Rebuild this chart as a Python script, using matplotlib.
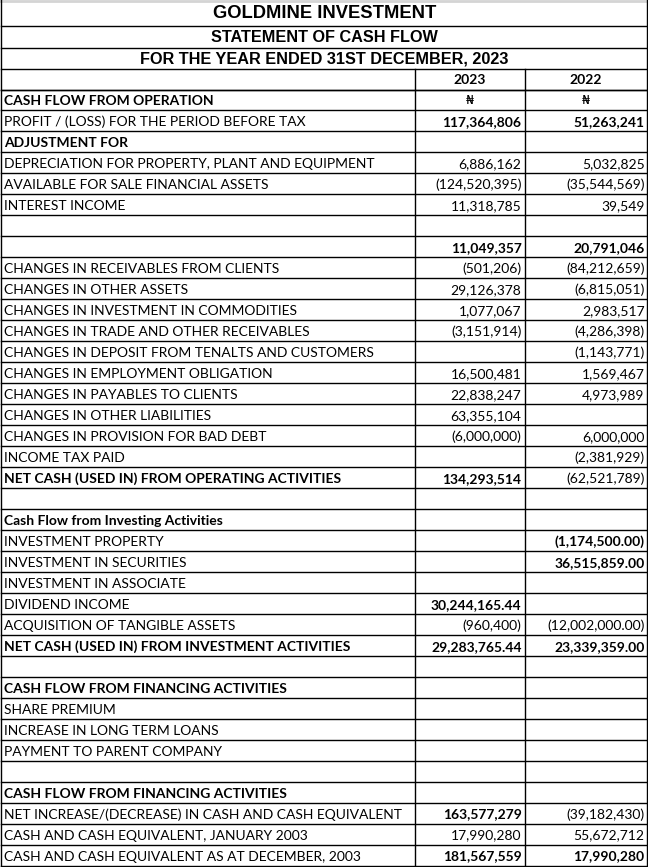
import matplotlib.pyplot as plt
from matplotlib.lines import Line2D

plt.rcParams['font.family'] = ['Lato', 'DejaVu Sans']

# titles
titles = ['GOLDMINE INVESTMENT', 'STATEMENT OF CASH FLOW',
          'FOR THE YEAR ENDED 31ST DECEMBER, 2023']
years = ['2023', '2022']

# rows: label, 2023, 2022
labels = [
    'CASH FLOW FROM OPERATION',
    'PROFIT / (LOSS) FOR THE PERIOD BEFORE TAX',
    'ADJUSTMENT FOR',
    'DEPRECIATION FOR PROPERTY, PLANT AND EQUIPMENT',
    'AVAILABLE FOR SALE FINANCIAL ASSETS',
    'INTEREST INCOME',
    '',
    '',
    'CHANGES IN RECEIVABLES FROM CLIENTS',
    'CHANGES IN OTHER ASSETS',
    'CHANGES IN INVESTMENT IN COMMODITIES',
    'CHANGES IN TRADE AND OTHER RECEIVABLES',
    'CHANGES IN DEPOSIT FROM TENALTS AND CUSTOMERS',
    'CHANGES IN EMPLOYMENT OBLIGATION',
    'CHANGES IN PAYABLES TO CLIENTS',
    'CHANGES IN OTHER LIABILITIES',
    'CHANGES IN PROVISION FOR BAD DEBT',
    'INCOME TAX PAID',
    'NET CASH (USED IN) FROM OPERATING ACTIVITIES',
    '',
    'Cash Flow from Investing Activities',
    'INVESTMENT PROPERTY',
    'INVESTMENT IN SECURITIES',
    'INVESTMENT IN ASSOCIATE',
    'DIVIDEND INCOME',
    'ACQUISITION OF TANGIBLE ASSETS',
    'NET CASH (USED IN) FROM INVESTMENT ACTIVITIES',
    '',
    'CASH FLOW FROM FINANCING ACTIVITIES',
    'SHARE PREMIUM',
    'INCREASE IN LONG TERM LOANS',
    'PAYMENT TO PARENT COMPANY',
    '',
    'CASH FLOW FROM FINANCING ACTIVITIES',
    'NET INCREASE/(DECREASE) IN CASH AND CASH EQUIVALENT',
    'CASH AND CASH EQUIVALENT, JANUARY 2003',
    'CASH AND CASH EQUIVALENT AS AT DECEMBER, 2003',
]
v2023 = ['\u20a6', '117,364,806', '', '6,886,162', '(124,520,395)', '11,318,785',
         '', '11,049,357', '(501,206)', '29,126,378', '1,077,067', '(3,151,914)',
         '', '16,500,481', '22,838,247', '63,355,104', '(6,000,000)', '',
         '134,293,514', '', '', '', '', '', '30,244,165.44', '(960,400)',
         '29,283,765.44', '', '', '', '', '', '', '', '163,577,279',
         '17,990,280', '181,567,559']
v2022 = ['\u20a6', '51,263,241', '', '5,032,825', '(35,544,569)', '39,549',
         '', '20,791,046', '(84,212,659)', '(6,815,051)', '2,983,517', '(4,286,398)',
         '(1,143,771)', '1,569,467', '4,973,989', '', '6,000,000', '(2,381,929)',
         '(62,521,789)', '', '', '(1,174,500.00)', '36,515,859.00', '', '',
         '(12,002,000.00)', '23,339,359.00', '', '', '', '', '', '', '',
         '(39,182,430)', '55,672,712', '17,990,280']
bold_label = [0, 2, 18, 20, 26, 28, 33]
bold_2023 = [1, 7, 18, 24, 26, 34, 36]
bold_2022 = [1, 7, 21, 22, 26, 36]

W, H = 648, 867
fig = plt.figure(figsize=(W / 100, H / 100), dpi=100)
ax = fig.add_axes([0, 0, 1, 1])
ax.set_xlim(0, W)
ax.set_ylim(H, 0)
ax.axis('off')

x0, c1, c2, x3 = 1, 414.5, 524.5, 646.5
head = [0, 26, 47.5, 68.5, 89.5]
row_h = (866 - head[-1]) / len(labels)
lw = 1.0

def hline(y, xa=x0, xb=x3):
    ax.add_line(Line2D([xa, xb], [y, y], color='black', lw=lw))

def vline(x, ya, yb):
    ax.add_line(Line2D([x, x], [ya, yb], color='black', lw=lw))

# light grey screenshot edge at top
ax.add_line(Line2D([0, W], [1, 1], color='#d4d4d4', lw=2.0))

for y in head[1:]:
    hline(y)
for i in range(len(labels) + 1):
    hline(head[-1] + i * row_h)
vline(x0, head[0], 866)
vline(x3, head[0], 866)
vline(c1, head[3], 866)
vline(c2, head[3], 866)

title_fonts = [dict(family=['Liberation Sans', 'DejaVu Sans'], size=13.2, weight='heavy'),
               dict(family=['Liberation Sans', 'DejaVu Sans'], size=11.7, weight='bold'),
               dict(family=['Liberation Sans', 'DejaVu Sans'], size=11.7, weight='bold')]
for t, fnt, ya, yb in zip(titles, title_fonts, head[:3], head[1:4]):
    ax.text(324.5, (ya + yb) / 2 + 1, t, ha='center', va='center', **fnt)

ym = (head[3] + head[4]) / 2 + 1
ax.text((c1 + c2) / 2, ym, years[0], ha='center', va='center', size=10, weight='bold')
ax.text((c2 + x3) / 2, ym, years[1], ha='center', va='center', size=10, weight='bold')

for i, (lab, a, b) in enumerate(zip(labels, v2023, v2022)):
    yc = head[-1] + (i + 0.5) * row_h + 1
    ax.text(4, yc, lab, ha='left', va='center', size=10,
            weight='bold' if i in bold_label else 'normal')
    if i == 0:
        ax.text((c1 + c2) / 2, yc, a, ha='center', va='center', size=9,
                family=['DejaVu Sans'])
        ax.text((c2 + x3) / 2, yc, b, ha='center', va='center', size=9,
                family=['DejaVu Sans'])
        continue
    ax.text(c2 - 3, yc, a, ha='right', va='center', size=10,
            weight='bold' if i in bold_2023 else 'normal')
    ax.text(x3 - 2, yc, b, ha='right', va='center', size=10,
            weight='bold' if i in bold_2022 else 'normal')

fig.savefig('out.png', dpi=100)
